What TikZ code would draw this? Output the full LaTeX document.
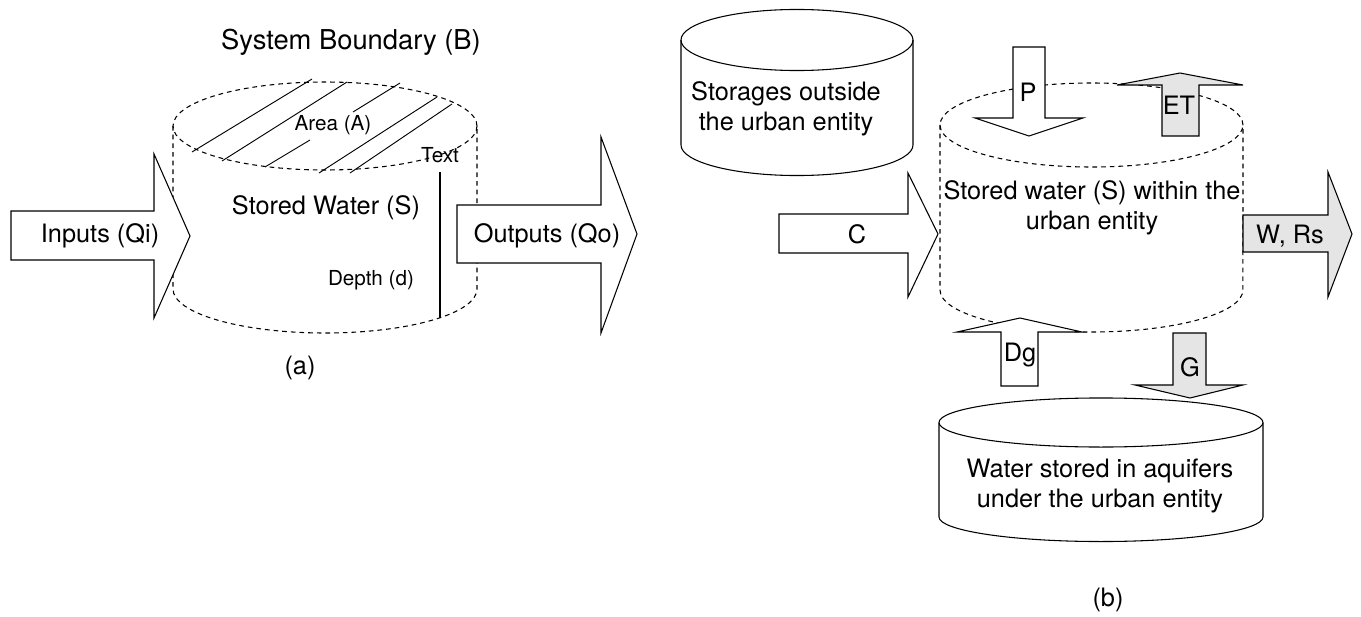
\documentclass[tikz,border=0pt]{standalone}
\usepackage{fontspec}
\setmainfont{TeX Gyre Heros}
\begin{document}
\begin{tikzpicture}[x=0.75pt,y=-0.75pt,
  outline/.style={draw=black,line width=0.8pt},
  dashline/.style={draw=black,line width=0.8pt,dash pattern=on 3.5pt off 3pt},
  whitearrow/.style={outline,fill=white,line join=miter},
  grayarrow/.style={outline,fill=black!10,line join=miter},
  hatch/.style={draw=black,line width=0.7pt},
  bigtext/.style={font=\fontsize{19}{22.5}\selectfont,inner sep=0pt,align=center},
  smalltext/.style={font=\fontsize{15.5}{19}\selectfont,inner sep=0pt},
  titletext/.style={font=\fontsize{20.5}{24}\selectfont,inner sep=0pt}]
\useasboundingbox (0,0) rectangle (1361,617);

% ---------------- (a) ----------------
\node[titletext] (title) at (351,42) {System Boundary (B)};
% dashed cylinder
\draw[dashline] (325,126) ellipse [x radius=114pt, y radius=33pt];
\draw[dashline] (173,126) -- (173,289) arc [start angle=180, end angle=360, x radius=114pt, y radius=33pt] -- (477,126);
% hatch
\draw[hatch] (192,152) -- (312,79);
\draw[hatch] (222,161) -- (347,82);
\draw[hatch] (265,167) -- (310,140);
\draw[hatch] (353,112) -- (400,83);
\draw[hatch] (319,173) -- (437,97);
\draw[hatch] (350,173) -- (452,104);
\node[smalltext] (area) at (333,125) {Area (A)};
\node[smalltext] (txt) at (440,155) {Text};
\coordinate (dtop) at (440,172);
\coordinate (dbot) at (440,318);
\draw[outline] (dtop) -- (dbot);
\node[bigtext] (sw) at (326,208) {Stored Water (S)};
\node[smalltext] (depth) at (371,280) {Depth (d)};
% arrows
\draw[whitearrow] (11,211) -- (154,211) -- (154,154) -- (190,236) -- (154,318) -- (154,260) -- (11,260) -- cycle;
\node[bigtext] (inputs) at (100,236) {Inputs (Qi)};
\draw[whitearrow] (457,205) -- (601,205) -- (601,137) -- (637,234) -- (601,333) -- (601,263) -- (457,263) -- cycle;
\node[bigtext] (outputs) at (547,236) {Outputs (Qo)};
\node[bigtext] (la) at (300,368) {(a)};

% ---------------- (b) ----------------
% storages outside
\filldraw[outline,fill=white] (681,40) -- (681,145) arc [start angle=180, end angle=360, x radius=87pt, y radius=22.9pt] -- (913,40);
\draw[outline] (797,40) ellipse [x radius=87pt, y radius=22.9pt];
\node[bigtext] (stout) at (786,109) {Storages outside\\the urban entity};
% main dashed cylinder
\draw[dashline] (1091.5,125) ellipse [x radius=113.6pt, y radius=31.5pt];
\draw[dashline] (940,125) -- (940,290) arc [start angle=180, end angle=360, x radius=113.6pt, y radius=31.5pt] -- (1243,125);
\node[bigtext] (stw) at (1092,208) {Stored water (S) within the\\urban entity};
% aquifer
\filldraw[outline,fill=white] (939,422.5) -- (939,517) arc [start angle=180, end angle=360, x radius=121.5pt, y radius=18.4pt] -- (1263,422.5);
\draw[outline] (1101,422.5) ellipse [x radius=121.5pt, y radius=18.4pt];
\node[bigtext] (aq) at (1100,486) {Water stored in aquifers\\under the urban entity};
% flow arrows
\draw[whitearrow] (779,214) -- (908,214) -- (908,173) -- (938,234) -- (908,297) -- (908,253) -- (779,253) -- cycle;
\node[bigtext] (c) at (857,234) {C};
\draw[grayarrow] (1243,215) -- (1328,215) -- (1328,172) -- (1352,234) -- (1328,297) -- (1328,252) -- (1243,252) -- cycle;
\node[bigtext] (wrs) at (1290,236) {W, Rs};
\draw[whitearrow] (1013,47) -- (1045,47) -- (1045,118) -- (1083,118) -- (1029,136) -- (975,118) -- (1013,118) -- cycle;
\node[bigtext] (p) at (1028,92) {P};
\draw[grayarrow] (1162,136) -- (1199,136) -- (1199,85) -- (1243,85) -- (1180,73) -- (1117,85) -- (1162,85) -- cycle;
\node[bigtext] (et) at (1179,105) {ET};
\draw[whitearrow] (1001,386) -- (1038,386) -- (1038,332) -- (1082,332) -- (1020,318) -- (957,332) -- (1001,332) -- cycle;
\node[bigtext] (dg) at (1020,355) {Dg};
\draw[grayarrow] (1173,333) -- (1206,333) -- (1206,385) -- (1243,385) -- (1190,398) -- (1135,385) -- (1173,385) -- cycle;
\node[bigtext] (g) at (1190,367) {G};
\node[bigtext] (lb) at (1108,600) {(b)};
\end{tikzpicture}
\end{document}
